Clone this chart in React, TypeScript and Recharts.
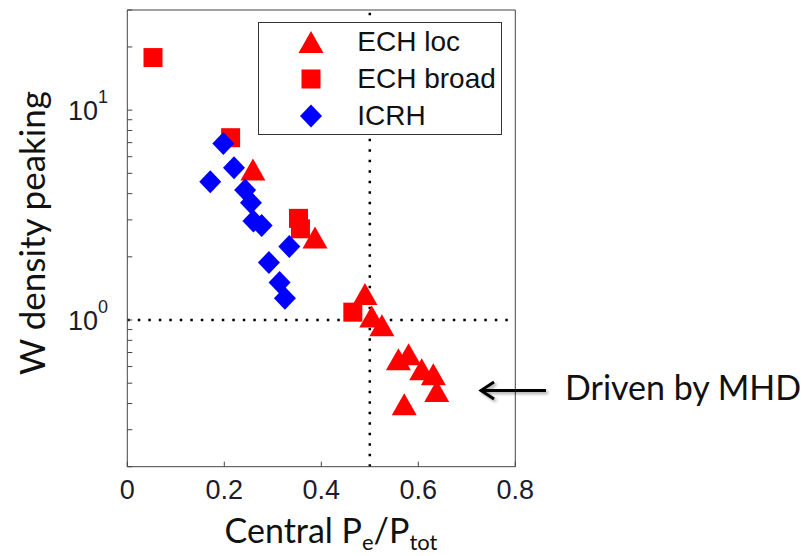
import React from 'react';
import { ScatterChart, Scatter, XAxis, YAxis, ReferenceLine, Legend } from 'recharts';

// Central Pe/Ptot vs W density peaking
const echLocX = [0.259, 0.387, 0.49, 0.504, 0.525, 0.559, 0.58, 0.607, 0.631, 0.638, 0.571];
const echLocY = [5.22, 2.47, 1.33, 1.04, 0.944, 0.65, 0.687, 0.582, 0.551, 0.459, 0.397];

const echBroadX = [0.053, 0.213, 0.353, 0.357, 0.465];
const echBroadY = [17.8, 7.39, 3.05, 2.72, 1.09];

const icrhX = [0.198, 0.22, 0.171, 0.243, 0.255, 0.26, 0.277, 0.334, 0.292, 0.314, 0.325];
const icrhY = [6.94, 5.32, 4.56, 4.16, 3.62, 2.96, 2.82, 2.24, 1.88, 1.51, 1.27];

const xTicks = [0, 0.2, 0.4, 0.6, 0.8];
const yTicks = [0.2, 0.3, 0.4, 0.5, 0.6, 0.7, 0.8, 0.9, 1, 2, 3, 4, 5, 6, 7, 8, 9, 10, 20, 30];
const yLabelled = [1, 10];

const toPoints = (xs: number[], ys: number[]) => xs.map((x, i) => ({ x, y: ys[i] }));

const RED = '#ff0000';
const BLUE = '#0000ff';
const TICK_FONT = '"Liberation Sans", Arial, sans-serif';
const TEXT_FONT = 'Lato, "Open Sans", sans-serif';

const Triangle = ({ cx, cy, color }: any) => (
  <polygon points={`${cx},${cy - 11} ${cx + 12.5},${cy + 11} ${cx - 12.5},${cy + 11}`} fill={color} />
);
const Square = ({ cx, cy, color }: any) => (
  <rect x={cx - 9.5} y={cy - 9.5} width={19} height={19} fill={color} />
);
const Diamond = ({ cx, cy, color }: any) => (
  <polygon points={`${cx},${cy - 11.5} ${cx + 11},${cy} ${cx},${cy + 11.5} ${cx - 11},${cy}`} fill={color} />
);

const series = [
  { name: 'ECH loc', data: toPoints(echLocX, echLocY), Marker: Triangle, color: RED },
  { name: 'ECH broad', data: toPoints(echBroadX, echBroadY), Marker: Square, color: RED },
  { name: 'ICRH', data: toPoints(icrhX, icrhY), Marker: Diamond, color: BLUE },
];

const YTick = (props: any) => {
  const { x, y, payload } = props;
  if (!yLabelled.includes(payload.value)) return null;
  const exp = Math.round(Math.log10(payload.value));
  return (
    <text x={x} y={y} dy={9.5} textAnchor="end" fontSize={27} fontFamily={TICK_FONT} fill="#1c1c2c">
      10
      <tspan dy={-17} fontSize={18}>{exp}</tspan>
    </text>
  );
};

const renderLegend = () => (
  <div
    style={{
      border: '1px solid #333',
      background: '#fff',
      width: 244,
      height: 113,
      boxSizing: 'border-box',
      paddingTop: 1,
    }}
  >
    {series.map(({ name, Marker, color }) => (
      <div key={name} style={{ display: 'flex', alignItems: 'center', height: 37 }}>
        <svg width={30} height={30} style={{ marginLeft: 37, flex: 'none' }}>
          <Marker cx={15} cy={15} color={color} />
        </svg>
        <span style={{ marginLeft: 31, fontSize: 28, fontFamily: TICK_FONT, color: '#111', lineHeight: 1 }}>
          {name}
        </span>
      </div>
    ))}
  </div>
);

const XTitle = () => (
  <text x={331} y={543} textAnchor="middle" fontSize={34} fontFamily={TEXT_FONT} fill="#111">
    Central P
    <tspan dy={7} fontSize={22}>e</tspan>
    <tspan dy={-7}>/P</tspan>
    <tspan dy={7} fontSize={22}>tot</tspan>
  </text>
);

const YTitle = () => (
  <text
    x={45}
    y={233}
    transform="rotate(-90, 45, 233)"
    textAnchor="middle"
    fontSize={35}
    fontFamily={TEXT_FONT}
    fill="#111"
  >
    W density peaking
  </text>
);

export default function App() {
  return (
    <div style={{ position: 'absolute', left: 0, top: 0, width: 802, height: 556, background: '#fff' }}>
      <ScatterChart
        width={802}
        height={556}
        margin={{ top: 9, right: 285.7, bottom: 59.3, left: 67.3 }}
      >
        <XAxis
          dataKey="x"
          type="number"
          domain={[0, 0.8]}
          ticks={xTicks}
          interval={0}
          allowDataOverflow
          height={30}
          stroke="#444"
          tickSize={-5}
          tickMargin={18.3}
          tick={{ fontSize: 27, fontFamily: TICK_FONT, fill: '#1c1c2c' }}
          label={{ content: () => <XTitle /> }}
        />
        <XAxis
          xAxisId="top"
          orientation="top"
          dataKey="x"
          type="number"
          domain={[0, 0.8]}
          ticks={xTicks}
          interval={0}
          allowDataOverflow
          height={1}
          stroke="#444"
          tickSize={-5}
          tick={false}
        />
        <YAxis
          dataKey="y"
          type="number"
          scale="log"
          domain={[0.2, 30]}
          ticks={yTicks}
          interval={0}
          allowDataOverflow
          width={60}
          stroke="#444"
          tickSize={-5}
          tickMargin={24.3}
          tick={<YTick />}
          label={{ content: () => <YTitle /> }}
        />
        <YAxis
          yAxisId="right"
          orientation="right"
          dataKey="y"
          type="number"
          scale="log"
          domain={[0.2, 30]}
          ticks={yTicks}
          interval={0}
          allowDataOverflow
          width={1}
          stroke="#444"
          tickSize={-5}
          tick={false}
        />
        {/* hidden copy so the top/right box axes have a series to scale against */}
        <Scatter
          data={series[2].data}
          xAxisId="top"
          yAxisId="right"
          legendType="none"
          isAnimationActive={false}
          shape={() => <g />}
        />
        {series.map(({ name, data, Marker, color }) => (
          <Scatter
            key={name}
            name={name}
            data={data}
            fill={color}
            isAnimationActive={false}
            shape={(p: any) => <Marker cx={p.cx} cy={p.cy} color={color} />}
          />
        ))}
        <ReferenceLine x={0.5} stroke="#000" strokeWidth={2.5} strokeDasharray="2.5 8" />
        <ReferenceLine y={1} stroke="#000" strokeWidth={2.5} strokeDasharray="2.5 8" />
        <Legend
          layout="vertical"
          align="center"
          verticalAlign="middle"
          content={renderLegend}
          wrapperStyle={{ position: 'absolute', left: 258.3, top: 21.7, width: 244, height: 113 }}
        />
      </ScatterChart>
      <svg
        width={802}
        height={556}
        style={{ position: 'absolute', left: 0, top: 0, pointerEvents: 'none' }}
      >
        <defs>
          <filter id="shadow" x="-20%" y="-50%" width="140%" height="200%">
            <feDropShadow dx={2} dy={2} stdDeviation={1.5} floodColor="#000" floodOpacity={0.35} />
          </filter>
        </defs>
        <g filter="url(#shadow)" stroke="#000" strokeWidth={3} fill="none">
          <line x1={481} y1={390.5} x2={546} y2={390.5} />
          <polyline points="494,382 481,390.5 494,399" />
        </g>
        <text x={565} y={400} fontSize={34} fontFamily={TEXT_FONT} fill="#111">
          Driven by MHD
        </text>
      </svg>
    </div>
  );
}
